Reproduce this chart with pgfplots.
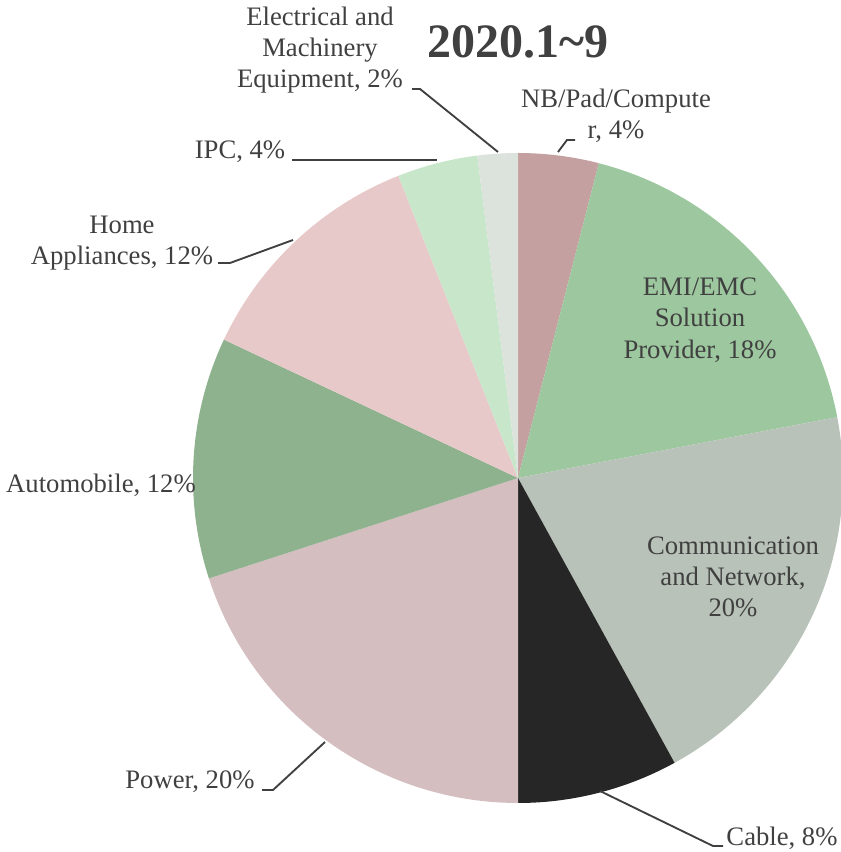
\documentclass[border=0pt]{standalone}
\usepackage{fontspec}
\setmainfont{Liberation Serif}
\usepackage{pgfplots}
\pgfplotsset{compat=1.18}
\definecolor{cNB}{HTML}{C4A0A0}
\definecolor{cEMI}{HTML}{9DC79E}
\definecolor{cCom}{HTML}{B8C2B8}
\definecolor{cCab}{HTML}{262626}
\definecolor{cPow}{HTML}{D4BEC0}
\definecolor{cAut}{HTML}{8EB18E}
\definecolor{cHom}{HTML}{E8C9CA}
\definecolor{cIPC}{HTML}{C8E6C9}
\definecolor{cEle}{HTML}{DCE3DC}
\definecolor{txt}{HTML}{404040}
% shares (%): NB 4, EMI 18, Comm 20, Cable 8, Power 20, Auto 12, Home 12, IPC 4, Elec 2
\newcommand{\slice}[3]{%
  \addplot[fill=#1, draw=none, domain={#2*3.6}:{#3*3.6}, samples=60, variable=\t]
    ({518+325*sin(\t)},{374+325*cos(\t)}) -- (axis cs:518,374) -- cycle;}
\begin{document}
\begin{tikzpicture}
\begin{axis}[x=0.75pt, y=0.75pt, scale only axis, hide axis, clip=false,
  xmin=0, xmax=841, ymin=0, ymax=852]
\slice{cNB}{0}{4}
\slice{cEMI}{4}{22}
\slice{cCom}{22}{42}
\slice{cCab}{42}{50}
\slice{cPow}{50}{70}
\slice{cAut}{70}{82}
\slice{cHom}{82}{94}
\slice{cIPC}{94}{98}
\slice{cEle}{98}{100}
% leader lines
\begin{scope}[every path/.style={draw=txt, line width=1.4pt}]
\draw (axis cs:412,763) -- (axis cs:420,763) -- (axis cs:498,700);
\draw (axis cs:575,712) -- (axis cs:567,712) -- (axis cs:558,700);
\draw (axis cs:600,61) -- (axis cs:713,6) -- (axis cs:723,6);
\draw (axis cs:262,62) -- (axis cs:273,62) -- (axis cs:325,110);
\draw (axis cs:218,589) -- (axis cs:230,589) -- (axis cs:293,612);
\draw (axis cs:292,692) -- (axis cs:437,692);
\end{scope}
% labels
\begin{scope}[every node/.style={text=txt, align=center, inner sep=0pt, font=\fontsize{20}{23.5}\selectfont}]
\node at (axis cs:518,810) {\fontsize{36}{40}\selectfont\bfseries 2020.1\textasciitilde 9};
\node at (axis cs:320,802) {Electrical and\\Machinery\\Equipment, 2\%};
\node at (axis cs:616,736) {NB/Pad/Compute\\r, 4\%};
\node at (axis cs:700,532) {EMI/EMC\\Solution\\Provider, 18\%};
\node at (axis cs:733,275) {Communication\\and Network,\\20\%};
\node at (axis cs:782,14) {Cable, 8\%};
\node at (axis cs:190,70) {Power, 20\%};
\node at (axis cs:101,367) {Automobile, 12\%};
\node at (axis cs:122,609) {Home\\Appliances, 12\%};
\node at (axis cs:240,700) {IPC, 4\%};
\end{scope}
\end{axis}
\pgfresetboundingbox
\path (current axis.south west) rectangle (current axis.north east);
\end{tikzpicture}
\end{document}
